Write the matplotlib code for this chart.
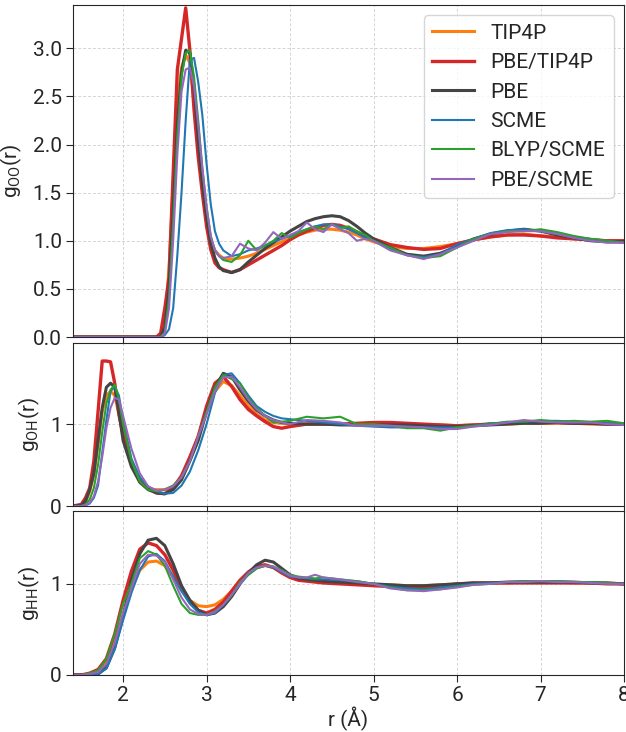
import numpy as np
import matplotlib
matplotlib.use("Agg")
import matplotlib.pyplot as plt

plt.rcParams['font.family'] = ['Roboto', 'DejaVu Sans']
plt.rcParams['mathtext.fontset'] = 'custom'
plt.rcParams['mathtext.rm'] = 'Roboto'
plt.rcParams['font.size'] = 15

labels = ["TIP4P", "PBE/TIP4P", "PBE", "SCME", "BLYP/SCME", "PBE/SCME"]
colors = ["#ff7f0e", "#d62728", "#444444", "#1f77b4", "#2ca02c", "#9467bd"]
widths = [2.2, 2.4, 2.2, 1.5, 1.5, 1.5]

# g_OO
r_oo = [1.4, 2.4, 2.45, 2.5, 2.55, 2.6, 2.65, 2.7, 2.75, 2.8, 2.85, 2.9, 2.95, 3.0, 3.05,
        3.1, 3.15, 3.2, 3.3, 3.4, 3.5, 3.6, 3.7, 3.8, 3.9, 4.0, 4.1, 4.2, 4.3, 4.4, 4.5,
        4.6, 4.7, 4.8, 4.9, 5.0, 5.2, 5.4, 5.6, 5.8, 6.0, 6.2, 6.4, 6.6, 6.8, 7.0, 7.2,
        7.4, 7.6, 7.8, 8.0]
oo_tip4p = [0, 0, 0.02, 0.15, 0.7, 1.6, 2.4, 2.8, 2.93, 2.85, 2.45, 1.95, 1.55, 1.22, 1.0,
            0.9, 0.85, 0.82, 0.81, 0.82, 0.84, 0.87, 0.91, 0.95, 0.99, 1.02, 1.06, 1.09, 1.11,
            1.12, 1.12, 1.11, 1.09, 1.06, 1.02, 0.99, 0.94, 0.92, 0.92, 0.94, 0.97, 1.01, 1.04,
            1.06, 1.07, 1.05, 1.04, 1.02, 1.01, 1.0, 1.0]
oo_pbe_tip4p = [0, 0, 0.04, 0.3, 0.62, 1.7, 2.78, 3.1, 3.42, 2.98, 2.36, 1.87, 1.49, 1.15, 0.91,
                0.77, 0.72, 0.70, 0.67, 0.70, 0.75, 0.80, 0.85, 0.90, 0.95, 1.01, 1.06, 1.10,
                1.13, 1.16, 1.17, 1.16, 1.13, 1.09, 1.05, 1.02, 0.96, 0.93, 0.91, 0.92, 0.97,
                1.01, 1.04, 1.06, 1.06, 1.05, 1.03, 1.02, 1.01, 1.0, 1.0]
oo_pbe = [0, 0, 0.0, 0.1, 0.5, 1.3, 2.2, 2.75, 2.98, 2.95, 2.6, 2.05, 1.6, 1.25, 0.98,
          0.82, 0.73, 0.69, 0.67, 0.70, 0.78, 0.85, 0.92, 0.98, 1.04, 1.10, 1.15, 1.20, 1.23,
          1.25, 1.26, 1.25, 1.21, 1.15, 1.08, 1.02, 0.93, 0.86, 0.84, 0.87, 0.94, 1.02, 1.07,
          1.10, 1.12, 1.10, 1.06, 1.03, 1.0, 0.99, 0.99]
oo_scme = [0, 0, 0.0, 0.02, 0.08, 0.3, 0.85, 1.5, 2.25, 2.88, 2.9, 2.65, 2.3, 1.8, 1.38,
           1.1, 0.97, 0.9, 0.84, 0.86, 0.9, 0.92, 0.95, 0.99, 1.02, 1.05, 1.09, 1.12, 1.15,
           1.17, 1.17, 1.15, 1.12, 1.08, 1.03, 1.0, 0.91, 0.85, 0.83, 0.86, 0.96, 1.02, 1.08,
           1.11, 1.12, 1.10, 1.07, 1.04, 1.02, 1.0, 0.98]
oo_blyp_scme = [0, 0, 0.0, 0.05, 0.4, 1.2, 2.1, 2.7, 2.95, 2.98, 2.7, 2.25, 1.75, 1.35, 1.05,
                0.9, 0.84, 0.8, 0.78, 0.85, 1.0, 0.9, 0.95, 1.0, 1.08, 1.03, 1.08, 1.12, 1.15,
                1.12, 1.17, 1.13, 1.15, 1.1, 1.06, 1.0, 0.93, 0.85, 0.82, 0.84, 0.93, 1.02, 1.07,
                1.1, 1.1, 1.12, 1.09, 1.05, 1.02, 1.0, 0.98]
oo_pbe_scme = [0, 0, 0.0, 0.03, 0.3, 1.0, 1.9, 2.55, 2.78, 2.8, 2.6, 2.2, 1.75, 1.35, 1.05,
               0.9, 0.84, 0.82, 0.84, 0.97, 0.92, 0.9, 0.98, 1.09, 1.02, 1.06, 1.1, 1.19, 1.12,
               1.09, 1.17, 1.12, 1.08, 1.0, 1.02, 1.0, 0.9, 0.85, 0.81, 0.86, 0.93, 1.0, 1.07,
               1.09, 1.1, 1.1, 1.07, 1.03, 1.0, 0.98, 0.98]

# g_OH
r_oh = [1.4, 1.5, 1.55, 1.6, 1.65, 1.7, 1.75, 1.8, 1.85, 1.9, 1.95, 2.0, 2.1, 2.2, 2.3, 2.4,
        2.5, 2.6, 2.7, 2.8, 2.9, 3.0, 3.1, 3.2, 3.3, 3.4, 3.5, 3.6, 3.7, 3.8, 3.9, 4.0, 4.2,
        4.4, 4.6, 4.8, 5.0, 5.2, 5.4, 5.6, 5.8, 6.0, 6.2, 6.4, 6.6, 6.8, 7.0, 7.2, 7.4, 7.6,
        7.8, 8.0]
oh_tip4p = [0, 0.01, 0.05, 0.18, 0.38, 0.75, 1.15, 1.35, 1.4, 1.35, 1.12, 0.85, 0.5, 0.3, 0.21,
            0.2, 0.2, 0.24, 0.36, 0.57, 0.85, 1.15, 1.4, 1.52, 1.47, 1.35, 1.22, 1.12, 1.05,
            1.02, 1.01, 1.0, 1.0, 1.0, 1.0, 1.0, 1.0, 1.0, 1.0, 0.99, 0.99, 0.98, 0.99, 1.0,
            1.0, 1.01, 1.01, 1.01, 1.01, 1.0, 1.0, 1.0]
oh_pbe_tip4p = [0, 0.02, 0.1, 0.22, 0.55, 1.15, 1.77, 1.77, 1.76, 1.5, 1.12, 0.88, 0.52, 0.33,
                0.22, 0.16, 0.15, 0.22, 0.37, 0.6, 0.85, 1.22, 1.5, 1.58, 1.46, 1.3, 1.18, 1.1,
                1.03, 0.97, 0.95, 0.97, 1.0, 1.0, 1.0, 1.01, 1.02, 1.02, 1.01, 1.0, 0.99, 0.98,
                0.99, 1.0, 1.01, 1.02, 1.02, 1.02, 1.01, 1.01, 1.0, 1.0]
oh_pbe = [0, 0.01, 0.06, 0.2, 0.4, 0.8, 1.2, 1.45, 1.5, 1.45, 1.15, 0.8, 0.48, 0.29, 0.2, 0.16,
          0.15, 0.2, 0.32, 0.55, 0.8, 1.15, 1.45, 1.62, 1.58, 1.42, 1.28, 1.17, 1.1, 1.05, 1.02,
          1.01, 1.0, 1.0, 0.99, 0.99, 0.99, 0.99, 0.99, 0.98, 0.97, 0.97, 0.98, 0.99, 1.0, 1.01,
          1.01, 1.02, 1.01, 1.01, 1.0, 1.0]
oh_scme = [0, 0.0, 0.01, 0.03, 0.1, 0.25, 0.65, 1.05, 1.4, 1.46, 1.35, 1.05, 0.58, 0.35, 0.24,
           0.18, 0.15, 0.16, 0.25, 0.42, 0.68, 1.0, 1.38, 1.6, 1.62, 1.5, 1.35, 1.22, 1.15, 1.1,
           1.07, 1.06, 1.04, 1.02, 1.0, 0.98, 0.97, 0.96, 0.96, 0.96, 0.96, 0.96, 0.98, 1.01,
           1.02, 1.03, 1.04, 1.04, 1.03, 1.02, 1.01, 1.0]
oh_blyp_scme = [0, 0.0, 0.02, 0.08, 0.22, 0.5, 0.9, 1.25, 1.42, 1.48, 1.3, 1.0, 0.55, 0.3, 0.2,
                0.18, 0.2, 0.25, 0.35, 0.55, 0.85, 1.15, 1.45, 1.6, 1.55, 1.5, 1.32, 1.2, 1.1,
                1.02, 1.03, 1.04, 1.09, 1.07, 1.09, 1.0, 1.0, 0.98, 0.95, 0.95, 0.92, 0.96, 0.98,
                1.0, 1.03, 1.03, 1.05, 1.03, 1.04, 1.03, 1.04, 1.01]
oh_pbe_scme = [0, 0.0, 0.01, 0.04, 0.12, 0.3, 0.6, 0.95, 1.2, 1.32, 1.3, 1.1, 0.7, 0.4, 0.24,
               0.19, 0.2, 0.24, 0.35, 0.55, 0.85, 1.12, 1.4, 1.57, 1.58, 1.45, 1.3, 1.18, 1.1,
               1.05, 1.02, 1.0, 1.05, 1.04, 1.02, 0.98, 0.98, 0.98, 0.97, 0.96, 0.94, 0.94, 0.97,
               0.99, 1.02, 1.05, 1.03, 1.02, 1.02, 1.02, 1.0, 0.99]

# g_HH
r_hh = [1.4, 1.5, 1.6, 1.7, 1.8, 1.9, 2.0, 2.1, 2.2, 2.3, 2.4, 2.5, 2.6, 2.7, 2.8, 2.9, 3.0,
        3.1, 3.2, 3.3, 3.4, 3.5, 3.6, 3.7, 3.8, 3.9, 4.0, 4.1, 4.2, 4.3, 4.4, 4.6, 4.8, 5.0,
        5.2, 5.4, 5.6, 5.8, 6.0, 6.2, 6.4, 6.6, 6.8, 7.0, 7.2, 7.4, 7.6, 7.8, 8.0]
hh_tip4p = [0, 0, 0.01, 0.03, 0.12, 0.35, 0.65, 0.95, 1.15, 1.24, 1.25, 1.2, 1.08, 0.93, 0.82,
            0.76, 0.75, 0.77, 0.83, 0.92, 1.03, 1.12, 1.18, 1.2, 1.18, 1.13, 1.08, 1.05, 1.04,
            1.03, 1.02, 1.01, 1.0, 0.99, 0.99, 0.98, 0.98, 0.99, 1.0, 1.0, 1.01, 1.01, 1.02,
            1.02, 1.02, 1.01, 1.01, 1.01, 1.0]
hh_pbe_tip4p = [0, 0, 0.02, 0.06, 0.18, 0.45, 0.82, 1.14, 1.38, 1.45, 1.42, 1.32, 1.15, 0.95,
                0.8, 0.71, 0.68, 0.72, 0.8, 0.92, 1.04, 1.13, 1.19, 1.21, 1.18, 1.12, 1.07, 1.04,
                1.03, 1.02, 1.01, 1.0, 0.99, 0.98, 0.97, 0.96, 0.96, 0.97, 1.0, 1.01, 1.01, 1.01,
                1.01, 1.01, 1.01, 1.01, 1.01, 1.0, 1.0]
hh_pbe = [0, 0, 0, 0.01, 0.08, 0.3, 0.65, 1.04, 1.33, 1.48, 1.5, 1.42, 1.22, 0.98, 0.82, 0.71,
          0.66, 0.68, 0.75, 0.86, 1.0, 1.12, 1.21, 1.26, 1.24, 1.17, 1.1, 1.06, 1.05, 1.04, 1.03,
          1.02, 1.01, 1.0, 0.99, 0.98, 0.98, 0.99, 1.0, 1.01, 1.01, 1.02, 1.02, 1.02, 1.02,
          1.02, 1.01, 1.01, 1.0]
hh_scme = [0, 0, 0, 0.01, 0.07, 0.28, 0.6, 0.9, 1.15, 1.3, 1.33, 1.25, 1.08, 0.92, 0.78, 0.69,
           0.66, 0.68, 0.77, 0.88, 1.0, 1.1, 1.17, 1.2, 1.18, 1.13, 1.08, 1.07, 1.06, 1.05, 1.05,
           1.04, 1.03, 1.0, 0.97, 0.95, 0.94, 0.96, 0.98, 1.0, 1.01, 1.02, 1.03, 1.03, 1.03,
           1.02, 1.02, 1.01, 1.0]
hh_blyp_scme = [0, 0, 0.02, 0.05, 0.18, 0.45, 0.78, 1.0, 1.28, 1.36, 1.32, 1.2, 0.98, 0.78,
                0.68, 0.66, 0.66, 0.7, 0.77, 0.87, 1.02, 1.1, 1.17, 1.2, 1.19, 1.15, 1.1, 1.08,
                1.07, 1.06, 1.07, 1.05, 1.03, 1.0, 0.96, 0.93, 0.93, 0.94, 0.97, 0.99, 1.0, 1.02,
                1.03, 1.03, 1.03, 1.02, 1.02, 1.01, 1.0]
hh_pbe_scme = [0, 0, 0.01, 0.03, 0.12, 0.35, 0.68, 0.95, 1.22, 1.32, 1.31, 1.24, 1.05, 0.85,
               0.72, 0.67, 0.66, 0.69, 0.77, 0.88, 1.0, 1.12, 1.18, 1.2, 1.19, 1.14, 1.09, 1.07,
               1.07, 1.1, 1.07, 1.05, 1.02, 1.0, 0.95, 0.93, 0.92, 0.94, 0.96, 0.99, 1.0, 1.02,
               1.02, 1.03, 1.02, 1.02, 1.01, 1.0, 1.0]

panels = [
    (r_oo, [oo_tip4p, oo_pbe_tip4p, oo_pbe, oo_scme, oo_blyp_scme, oo_pbe_scme], r'g$_{\mathrm{OO}}$(r)'),
    (r_oh, [oh_tip4p, oh_pbe_tip4p, oh_pbe, oh_scme, oh_blyp_scme, oh_pbe_scme], r'g$_{\mathrm{OH}}$(r)'),
    (r_hh, [hh_tip4p, hh_pbe_tip4p, hh_pbe, hh_scme, hh_blyp_scme, hh_pbe_scme], r'g$_{\mathrm{HH}}$(r)'),
]

fig = plt.figure(figsize=(6.26, 7.32), dpi=100)
ax0 = fig.add_axes([0.1166, 0.5396, 0.8802, 0.4536])
ax1 = fig.add_axes([0.1166, 0.3087, 0.8802, 0.2227], sharex=ax0)
ax2 = fig.add_axes([0.1166, 0.0779, 0.8802, 0.2240], sharex=ax0)
axes = [ax0, ax1, ax2]

for ax, (r, series, ylab) in zip(axes, panels):
    for y, lab, c, lw in zip(series, labels, colors, widths):
        ax.plot(r, y, color=c, lw=lw, label=lab)
    ax.set_ylabel(ylab, color='#262626', labelpad=6)
    ax.grid(True, linestyle=(0, (3, 2)), color='#d4d4d4', linewidth=0.7)
    ax.set_xlim(1.4, 8)
    ax.tick_params(colors='#262626', direction='out', length=5, pad=3)
    for s in ax.spines.values():
        s.set_color('#262626')

ax0.tick_params(labelbottom=False)
ax1.tick_params(labelbottom=False)

ax0.set_ylim(0, 3.45)
ax0.set_yticks([0, 0.5, 1.0, 1.5, 2.0, 2.5, 3.0])
ax0.set_yticklabels(["0.0", "0.5", "1.0", "1.5", "2.0", "2.5", "3.0"])
ax1.set_ylim(0, 1.99)
ax1.set_yticks([0, 1])
ax1.set_yticklabels(["0", "1"])
ax2.set_ylim(0, 1.8)
ax2.set_yticks([0, 1])
ax2.set_yticklabels(["0", "1"])
ax2.set_xticks([2, 3, 4, 5, 6, 7, 8])
ax2.set_xlabel('r (Å)', color='#262626', labelpad=1)

leg = ax0.legend(loc='upper right', fontsize=15, framealpha=0.8)
for t in leg.get_texts():
    t.set_color('#262626')

plt.savefig("out.png")
